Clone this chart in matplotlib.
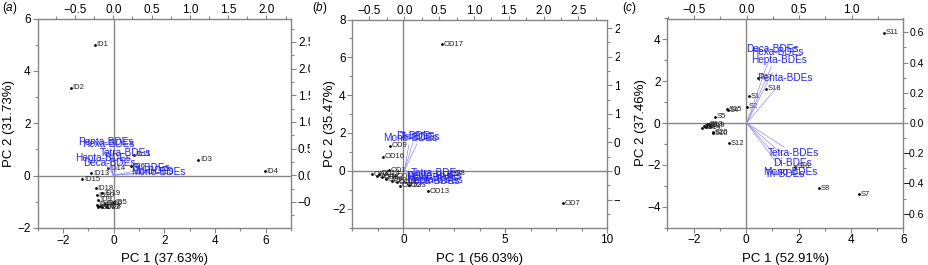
#!/usr/bin/env python
# -*- coding: utf-8 -*-
# PCA biplots of PBDE homologue groups, three panels (a), (b), (c).

# == INCLUDE ==
import matplotlib
matplotlib.use("Agg")
import matplotlib.pyplot as plt
from matplotlib.ticker import MultipleLocator, FuncFormatter

# == CONFIG ==
plt.rcParams['font.family'] = ['Liberation Sans', 'DejaVu Sans']
plt.rcParams['mathtext.fontset'] = 'custom'
plt.rcParams['mathtext.rm'] = 'Liberation Sans'
plt.rcParams['mathtext.it'] = 'Liberation Sans:italic'

GREY = '#858585'
BLUE = '#2323ff'
ARROW = '#8c8cff'

# == DATA ==
bde_labels = ["Mono-BDEs", "Di-BDEs", "Tri-BDEs", "Tetra-BDEs",
              "Penta-BDEs", "Hexa-BDEs", "Hepta-BDEs", "Deca-BDEs"]

# -- panel (a) --
a_labels = ["ID%d" % i for i in range(1, 21)]
a_pc1 = [-0.75, -1.68, 3.35, 5.97, 0.02, 0.70, -0.55, -0.25, -0.60, -0.65,
         0.79, -0.45, -0.88, -0.22, -1.23, -0.35, -0.62, -0.69, -0.45, -0.65]
a_pc2 = [5.00, 3.36, 0.61, 0.16, -1.02, 0.35, -1.15, -1.18, -0.92, -1.12,
         0.80, -1.20, 0.09, 0.28, -0.14, -1.08, -1.20, -0.49, -0.68, -0.75]
a_load1 = [0.587, 0.490, 0.530, 0.157, -0.095, -0.060, -0.140, -0.056]
a_load2 = [0.057, 0.140, 0.070, 0.410, 0.625, 0.590, 0.316, 0.220]

# -- panel (b) --
b_labels = ["OD%d" % i for i in range(1, 18)]
b_pc1 = [-0.70, -1.55, 0.28, -1.30, -1.05, -0.85, 7.84, 2.20, -0.66, -0.55,
         -0.30, -0.15, 1.20, -1.20, -0.40, -0.99, 1.89]
b_pc2 = [0.04, -0.18, -0.76, -0.30, -0.35, -0.45, -1.72, -0.17, 1.33, -0.55,
         -0.62, -0.80, -1.08, -0.15, -0.30, 0.74, 6.70]
b_load1 = [0.082, 0.154, 0.226, 0.455, 0.427, 0.400, 0.440, 0.410]
b_load2 = [0.572, 0.616, 0.590, -0.044, -0.088, -0.123, -0.158, -0.176]

# -- panel (c) --
c_labels = ["S%d" % i for i in range(1, 21)]
c_pc1 = [0.10, 0.04, -1.60, -0.70, -1.17, -1.50, 4.32, 2.76, -1.70, -1.25,
         5.25, -0.66, -1.45, -1.55, -0.73, 1.88, 0.44, 0.76, -1.38, -1.28]
c_pc2 = [1.29, 0.78, -0.15, 0.62, 0.30, -0.10, -3.40, -3.12, -0.22, -0.49,
         4.32, -0.97, -0.05, -0.20, 0.66, -2.09, 2.17, 1.63, -0.12, -0.45]
c_load1 = [0.415, 0.439, 0.365, 0.448, 0.360, 0.294, 0.306, 0.246]
c_load2 = [-0.327, -0.267, -0.338, -0.200, 0.296, 0.468, 0.417, 0.488]


# == FUNC ==
def fmt_one(v, pos):
    s = "%.1f" % v
    if s == "-0.0":
        s = "0.0"
    return s.replace("-", "\u2212")


def fmt_int(v, pos):
    s = "%d" % round(v)
    return s.replace("-", "\u2212")


def style_ticks(axis_obj):
    axis_obj.tick_params(which='both', direction='out', color=GREY, width=0.8,
                         labelsize=8.5, pad=1.5)
    axis_obj.tick_params(which='major', length=3.5)
    axis_obj.tick_params(which='minor', length=2)


def draw_panel(fig, px, z, tag, xlab, ylab, ypad,
               pc1, pc2, names, load1, load2,
               xlim, ylim, xmaj, xmin, ymaj, ymin,
               txlim, tylim, tymaj, tymin, right_style=None):
    W, H = 929.0, 265.0
    rect = [px[0] / W, 1 - px[3] / H, (px[1] - px[0]) / W, (px[3] - px[2]) / H]

    # white sheet so the panel hides what spills over from its left neighbour
    bg = fig.add_axes([px[4] / W, 0, (px[5] - px[4]) / W, 1], zorder=z)
    bg.set_xticks([])
    bg.set_yticks([])
    for sp in bg.spines.values():
        sp.set_visible(False)

    # -- scores --
    ax = fig.add_axes(rect, zorder=z + 1)
    ax.set_xlim(*xlim)
    ax.set_ylim(*ylim)
    ax.axhline(0, color=GREY, lw=1.0, zorder=1)
    ax.axvline(0, color=GREY, lw=1.0, zorder=1)
    ax.plot(pc1, pc2, 'o', color='black', ms=2.0, mew=0, zorder=3)
    for x, y, n in zip(pc1, pc2, names):
        ax.annotate(n, (x, y), xytext=(1.2, 0), textcoords='offset points',
                    fontsize=5.5, va='center', ha='left', color='#202020',
                    zorder=3)
    ax.xaxis.set_major_locator(MultipleLocator(xmaj))
    ax.xaxis.set_minor_locator(MultipleLocator(xmin))
    ax.yaxis.set_major_locator(MultipleLocator(ymaj))
    ax.yaxis.set_minor_locator(MultipleLocator(ymin))
    ax.xaxis.set_major_formatter(FuncFormatter(fmt_int))
    ax.yaxis.set_major_formatter(FuncFormatter(fmt_int))
    style_ticks(ax)
    for sp in ax.spines.values():
        sp.set_color(GREY)
        sp.set_linewidth(1.0)
    ax.set_xlabel(xlab, fontsize=9.5, labelpad=4.5)
    ax.set_ylabel(ylab, fontsize=9.5, labelpad=ypad)

    # -- loadings, on their own top / right scales --
    ax2 = fig.add_axes(rect, zorder=z + 2)
    ax2.patch.set_visible(False)
    ax2.set_xlim(*txlim)
    ax2.set_ylim(*tylim)
    ax2.xaxis.tick_top()
    ax2.yaxis.tick_right()
    for sp in ax2.spines.values():
        sp.set_visible(False)
    ax2.xaxis.set_major_locator(MultipleLocator(0.5))
    ax2.xaxis.set_minor_locator(MultipleLocator(0.25))
    ax2.yaxis.set_major_locator(MultipleLocator(tymaj))
    ax2.yaxis.set_minor_locator(MultipleLocator(tymin))
    ax2.xaxis.set_major_formatter(FuncFormatter(fmt_one))
    ax2.yaxis.set_major_formatter(FuncFormatter(fmt_one))
    style_ticks(ax2)
    ax2.tick_params(axis='x', which='major', length=3, pad=-1.2)
    if right_style is not None:
        # right-aligned labels that stay inside the picture
        ax2.tick_params(axis='y', labelsize=right_style[0], pad=right_style[1])
        for lbl in ax2.get_yticklabels():
            lbl.set_horizontalalignment('right')
    for lx, ly, n in zip(load1, load2, bde_labels):
        ax2.plot([0, 0.8 * lx], [0, 0.8 * ly], color=ARROW, lw=0.5, zorder=2)
        ax2.text(lx, ly, n, color=BLUE, fontsize=7.2, ha='center',
                 va='center', zorder=4)

    fig.text(px[4] / W + 2 / W, 1 - 8 / H, r"($\mathit{%s}$)" % tag,
             fontsize=8.5, ha='left', va='center', zorder=20)


if __name__ == "__main__":
    # == BEGIN ==
    fig = plt.figure(figsize=(9.29, 2.65), dpi=100)

    # px = (left, right, top, bottom, sheet left, sheet right)
    draw_panel(fig, (37.5, 291.0, 18.5, 228.0, 0, 310), 1, "a",
               "PC 1 (37.63%)", "PC 2 (31.73%)", 1.5,
               a_pc1, a_pc2, a_labels, a_load1, a_load2,
               (-3, 7), (-2, 6), 2, 1, 2, 1,
               (-0.99, 2.32), (-0.99, 2.94), 0.5, 0.25)
    draw_panel(fig, (352.5, 607.0, 19.5, 227.5, 310, 620), 4, "b",
               "PC 1 (56.03%)", "PC 2 (35.47%)", -3,
               b_pc1, b_pc2, b_labels, b_load1, b_load2,
               (-2.5, 10), (-3, 8), 5, 1.25, 2, 1,
               (-0.744, 2.91), (-0.99, 2.65), 0.5, 0.25)
    draw_panel(fig, (667.5, 903.5, 18.5, 227.5, 620, 929), 7, "c",
               "PC 1 (52.91%)", "PC 2 (37.46%)", 0,
               c_pc1, c_pc2, c_labels, c_load1, c_load2,
               (-3, 6), (-5, 5), 2, 1, 2, 1,
               (-0.754, 1.493), (-0.692, 0.692), 0.2, 0.1,
               right_style=(7.5, 11.5))

    # -- OUT --
    fig.savefig("out.png", dpi=100)
    # == END ==

# EOF .
